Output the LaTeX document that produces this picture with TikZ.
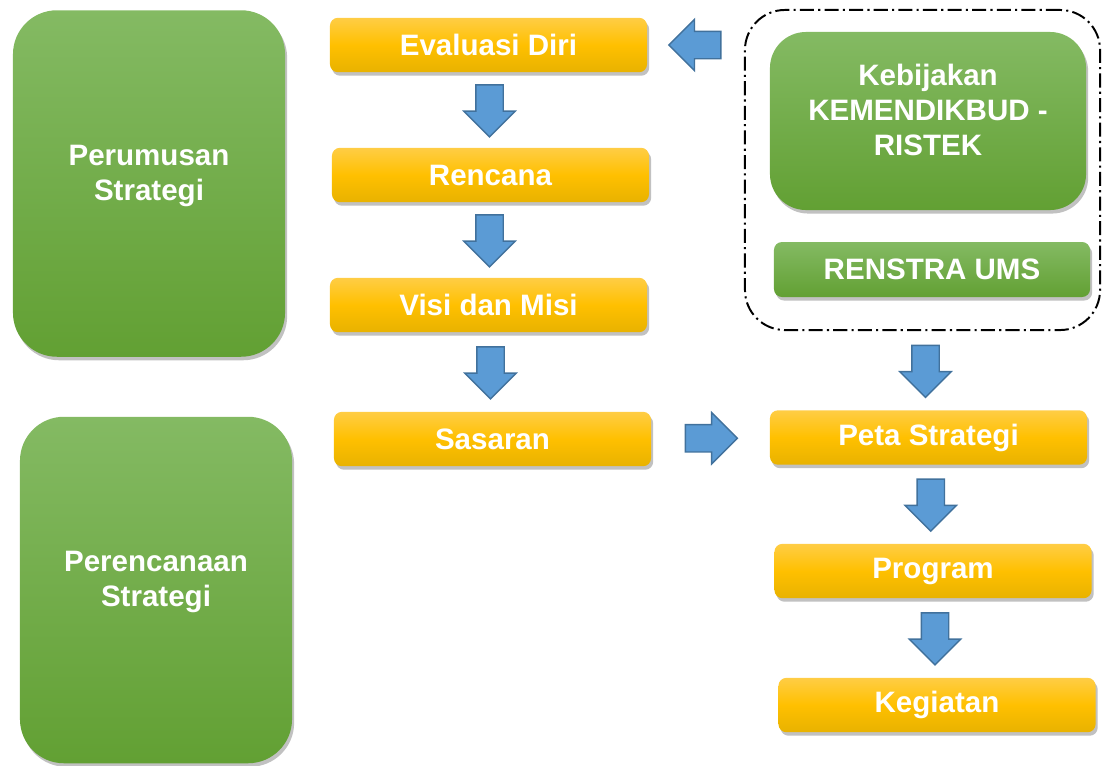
\documentclass[tikz,border=0pt]{standalone}
\usepackage{fontspec}
\setmainfont{Liberation Sans}
\usetikzlibrary{positioning, calc, shapes.arrows, shadows}

\definecolor{ytop}{HTML}{FFCD45}
\definecolor{ymid}{HTML}{FFC000}
\definecolor{ybot}{HTML}{E8B200}
\definecolor{gtop}{HTML}{84BA63}
\definecolor{gbot}{HTML}{62A033}
\definecolor{arrfill}{HTML}{5B9BD5}
\definecolor{arrline}{HTML}{41719C}

\begin{document}
\begin{tikzpicture}[x=0.025cm, y=-0.025cm,
      box/.style={rounded corners=0.2cm, text=white, align=center,
          font=\bfseries\fontsize{21}{25}\selectfont, inner sep=0pt,
          drop shadow={shadow xshift=1.5pt, shadow yshift=-2.5pt,
              opacity=0.35, fill=black!70}},
      ybox/.style={box, top color=ytop, bottom color=ybot, middle color=ymid,
          minimum width=7.925cm, minimum height=1.36cm},
      gbox/.style={box, top color=gtop, bottom color=gbot,
          minimum width=7.9cm, minimum height=1.375cm},
      phase/.style={gbox, rounded corners=1.1cm, text depth=0.55cm,
          minimum width=6.8cm, minimum height=8.66cm},
      barrow/.style={single arrow, draw=arrline, fill=arrfill, line width=1pt,
          minimum height=1.3cm, minimum width=1.25cm,
          single arrow head extend=0.3cm, inner xsep=0pt, inner ysep=0.325cm},
      back/.style={xshift=-0.15cm},
      group/.style={draw, line width=1.4pt, rounded corners=1cm,
          dash pattern=on 10pt off 3pt on 1.5pt off 3pt,
          minimum width=8.875cm, minimum height=8cm},
    ]
    \useasboundingbox (0,0) rectangle (1102,765);

    %% --- Phases (left) ---
    \node[phase] (rumus) at (149,183.5) {Perumusan\\Strategi};
    \node[phase] (rencn) at (156,590)   {Perencanaan\\Strategi};

    %% --- Formulation column (centre) ---
    \node[ybox] (eval)    at (488.5,45)  {Evaluasi Diri};
    \node[ybox] (rencana) at (490.5,175) {Rencana};
    \node[ybox] (visi)    at (488.5,305) {Visi dan Misi};
    \node[ybox] (sasaran) at (492.5,439) {Sasaran};

    %% --- Policy group (right) ---
    \node[group] (grp) at (922.5,170) {};
    \node[gbox, rounded corners=0.9cm, minimum height=4.45cm, text depth=0.55cm]
        (kebijakan) at (928,121) {Kebijakan\\KEMENDIKBUD -\\RISTEK};
    \node[gbox] (renstra) at (932,269.5) {RENSTRA UMS};

    %% --- Planning column (right) ---
    \node[ybox] (peta)     at (928.5,437.5) {Peta Strategi};
    \node[ybox] (program)  at (933,571)     {Program};
    \node[ybox] (kegiatan) at (937,705)     {Kegiatan};

    %% --- Block arrows ---
    \node[barrow, rotate=-90, back] (a1) at ($(eval.south)!0.5!(rencana.north)$) {};
    \node[barrow, rotate=-90, back] (a2) at ($(rencana.south)!0.5!(visi.north)$) {};
    \node[barrow, rotate=-90, back] (a3) at ($(visi.south)!0.5!(sasaran.north)$) {};
    \node[barrow, rotate=180, back]  (a4) at ($(eval.east)!0.5!(eval.east -| grp.west)$) {};
    \node[barrow, back] (a5) at ($(sasaran.east)!0.5!(peta.west)$) {};
    \node[barrow, rotate=-90, back] (a6) at ($(grp.south)!0.5!(peta.north)$) {};
    \node[barrow, rotate=-90, back] (a7) at ($(peta.south)!0.5!(program.north)$) {};
    \node[barrow, rotate=-90, back] (a8) at ($(program.south)!0.5!(kegiatan.north)$) {};

  \end{tikzpicture}
\end{document}
